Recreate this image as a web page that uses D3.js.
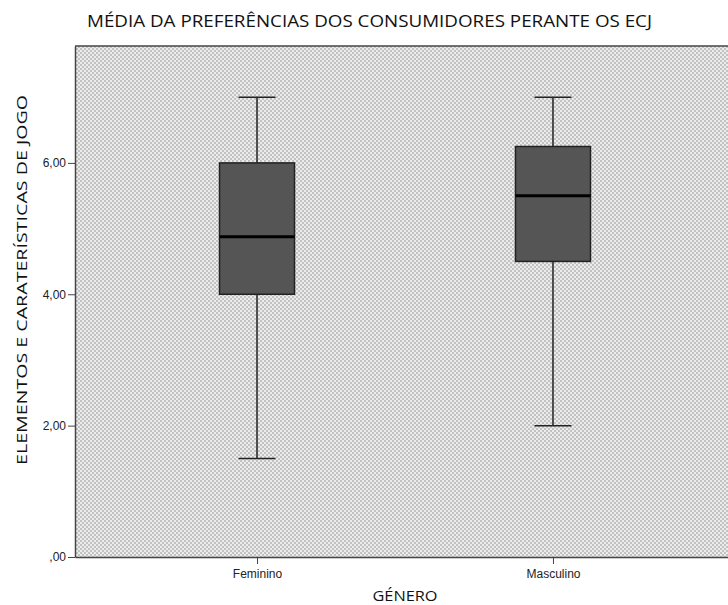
<!DOCTYPE html>
<html>
<head>
<meta charset="utf-8">
<script src="https://cdn.jsdelivr.net/npm/d3@7"></script>
<style>
  body { margin: 0; background: #fff; }
  .tick text { font-family: "Liberation Sans", Arial, sans-serif; font-size: 12px; fill: #222; }
  .ttl { font-family: "Open Sans", "Noto Sans", sans-serif; fill: #111; }
</style>
</head>
<body>
<div id="chart"></div>
<script>
// box plot data
var groups = ["Feminino", "Masculino"];
var whiskerLow = [1.5, 2.0];
var q1 = [4.0, 4.5];
var medians = [4.875, 5.5];
var q3 = [6.0, 6.25];
var whiskerHigh = [7.0, 7.0];
var yTicks = [0, 2, 4, 6];

var width = 728, height = 605;
var margin = {top: 46, right: -7, bottom: 48, left: 75};

var svg = d3.select("#chart").append("svg")
    .attr("width", width)
    .attr("height", height);

// dotted fill like the spss chart
var defs = svg.append("defs");
var pat = defs.append("pattern")
    .attr("id", "dots")
    .attr("width", 4).attr("height", 4)
    .attr("patternUnits", "userSpaceOnUse");
pat.append("rect").attr("width", 4).attr("height", 4).attr("fill", "#ececec");
pat.append("rect").attr("x", 0).attr("y", 0).attr("width", 2).attr("height", 2).attr("fill", "#c2c2c2");
pat.append("rect").attr("x", 2).attr("y", 2).attr("width", 2).attr("height", 2).attr("fill", "#c2c2c2");

var x = d3.scalePoint()
    .domain(groups)
    .range([margin.left, width - margin.right])
    .padding(0.615);

var y = d3.scaleLinear()
    .domain([0, 7.78])
    .range([height - margin.bottom, margin.top]);

var plotBottom = height - margin.bottom;

svg.append("rect")
    .attr("x", margin.left)
    .attr("y", margin.top)
    .attr("width", width - margin.right - margin.left)
    .attr("height", plotBottom - margin.top)
    .attr("fill", "url(#dots)");

// top border
svg.append("line")
    .attr("x1", margin.left).attr("x2", width)
    .attr("y1", margin.top).attr("y2", margin.top)
    .attr("stroke", "#444").attr("stroke-width", 1.5);

var yAxis = svg.append("g")
    .attr("transform", "translate(" + margin.left + ",0)")
    .call(d3.axisLeft(y).tickValues(yTicks).tickSize(7).tickSizeOuter(0).tickPadding(2)
        .tickFormat(function (d) { return d === 0 ? ",00" : d3.format(".2f")(d).replace(".", ","); }));
yAxis.select(".domain").attr("stroke", "#444").attr("stroke-width", 1.5);
yAxis.selectAll(".tick line").attr("stroke", "#444");

var xAxis = svg.append("g")
    .attr("transform", "translate(0," + plotBottom + ")")
    .call(d3.axisBottom(x).tickSize(7).tickSizeOuter(0).tickPadding(5));
xAxis.select(".domain").attr("stroke", "#444").attr("stroke-width", 1.5);
xAxis.selectAll(".tick line").attr("stroke", "#444");

var boxW = 75, capW = 37;

var boxes = svg.selectAll(".box")
    .data(groups)
    .enter()
    .append("g")
    .attr("class", "box");

// whisker stems
boxes.append("line")
    .attr("x1", function (d) { return x(d); })
    .attr("x2", function (d) { return x(d); })
    .attr("y1", function (d, i) { return y(whiskerLow[i]); })
    .attr("y2", function (d, i) { return y(whiskerHigh[i]); })
    .attr("stroke", "#222").attr("stroke-width", 1.5);

// caps
[whiskerLow, whiskerHigh].forEach(function (arr) {
    boxes.append("line")
        .attr("x1", function (d) { return x(d) - capW / 2; })
        .attr("x2", function (d) { return x(d) + capW / 2; })
        .attr("y1", function (d, i) { return y(arr[i]); })
        .attr("y2", function (d, i) { return y(arr[i]); })
        .attr("stroke", "#222").attr("stroke-width", 1.5);
});

boxes.append("rect")
    .attr("x", function (d) { return x(d) - boxW / 2; })
    .attr("width", boxW)
    .attr("y", function (d, i) { return y(q3[i]); })
    .attr("height", function (d, i) { return y(q1[i]) - y(q3[i]); })
    .attr("fill", "#555555")
    .attr("stroke", "#222").attr("stroke-width", 1.5);

boxes.append("line")
    .attr("x1", function (d) { return x(d) - boxW / 2; })
    .attr("x2", function (d) { return x(d) + boxW / 2; })
    .attr("y1", function (d, i) { return y(medians[i]); })
    .attr("y2", function (d, i) { return y(medians[i]); })
    .attr("stroke", "#000").attr("stroke-width", 3);

// titles
svg.append("text")
    .attr("class", "ttl")
    .attr("x", 87).attr("y", 27)
    .attr("textLength", 565)
    .attr("lengthAdjust", "spacingAndGlyphs")
    .style("font-size", "17px")
    .text("MÉDIA DA PREFERÊNCIAS DOS CONSUMIDORES PERANTE OS ECJ");

svg.append("text")
    .attr("class", "ttl")
    .attr("x", 405).attr("y", 601)
    .attr("text-anchor", "middle")
    .attr("textLength", 65)
    .attr("lengthAdjust", "spacingAndGlyphs")
    .style("font-size", "14px")
    .text("GÉNERO");

svg.append("text")
    .attr("class", "ttl")
    .attr("transform", "translate(27,280) rotate(-90)")
    .attr("text-anchor", "middle")
    .attr("textLength", 370)
    .attr("lengthAdjust", "spacingAndGlyphs")
    .style("font-size", "15px")
    .text("ELEMENTOS E CARATERÍSTICAS DE JOGO");
</script>
</body>
</html>
